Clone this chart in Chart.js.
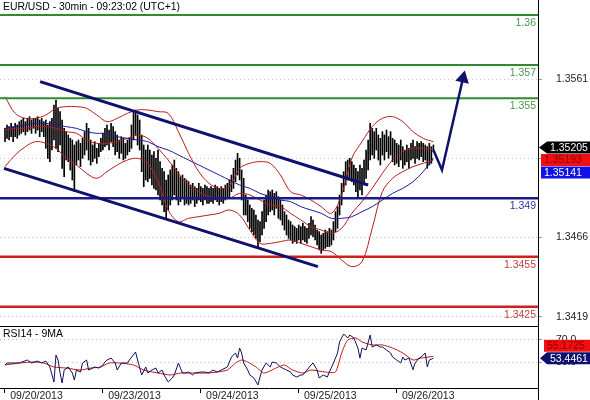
<!DOCTYPE html>
<html><head><meta charset="utf-8">
<script src="https://cdn.jsdelivr.net/npm/chart.js@4.4.0/dist/chart.umd.min.js"></script>
<style>html,body{margin:0;padding:0;background:#fff}#wrap{width:590px;height:400px;position:relative}</style>
</head><body><div id="wrap"><canvas id="c" width="590" height="400"></canvas></div>
<script>
const chartTitle = 'EUR/USD - 30min - 09:23:02 (UTC+1)';
const rsiTitle = 'RSI14 - 9MA';
const dateLabels = ['09/20/2013','09/23/2013','09/24/2013','09/25/2013','09/26/2013'];
const dateTickBars = [0,48,96,144,192];

const highs = [
1.3532,1.3534,1.3533,1.3535,1.3533,1.3535,1.3534,1.3536,1.3537,1.3538,
1.3536,1.3538,1.3539,1.3537,1.3538,1.3538,1.3539,1.3537,1.3538,1.3536,
1.3537,1.3534,1.3536,1.3538,1.3546,1.3549,1.3544,1.3542,1.3537,1.3532,
1.3530,1.3528,1.3526,1.3525,1.3522,1.3524,1.3525,1.3523,1.3526,1.3530,
1.3535,1.3532,1.3525,1.3522,1.3524,1.3520,1.3523,1.3526,1.3529,1.3532,
1.3534,1.3531,1.3535,1.3533,1.3530,1.3528,1.3525,1.3527,1.3526,1.3523,
1.3525,1.3526,1.3534,1.3542,1.3543,1.3540,1.3537,1.3528,1.3522,1.3519,
1.3522,1.3519,1.3516,1.3518,1.3514,1.3519,1.3512,1.3508,1.3506,1.3501,
1.3504,1.3507,1.3510,1.3513,1.3508,1.3506,1.3503,1.3504,1.3502,1.3501,
1.3500,1.3498,1.3499,1.3497,1.3496,1.3499,1.3497,1.3496,1.3498,1.3497,
1.3496,1.3497,1.3496,1.3498,1.3497,1.3496,1.3497,1.3496,1.3498,1.3499,
1.3501,1.3504,1.3508,1.3513,1.3517,1.3514,1.3507,1.3502,1.3492,1.3489,
1.3486,1.3484,1.3483,1.3480,1.3477,1.3476,1.3482,1.3489,1.3492,1.3495,
1.3494,1.3495,1.3493,1.3494,1.3491,1.3489,1.3486,1.3482,1.3480,1.3477,
1.3476,1.3474,1.3473,1.3472,1.3474,1.3473,1.3475,1.3473,1.3472,1.3475,
1.3479,1.3477,1.3474,1.3471,1.3470,1.3468,1.3469,1.3471,1.3470,1.3472,
1.3471,1.3476,1.3482,1.3485,1.3492,1.3499,1.3506,1.3512,1.3513,1.3514,
1.3512,1.3510,1.3508,1.3506,1.3510,1.3508,1.3513,1.3519,1.3525,1.3535,
1.3532,1.3530,1.3532,1.3528,1.3526,1.3530,1.3528,1.3531,1.3527,1.3530,
1.3526,1.3525,1.3523,1.3522,1.3525,1.3521,1.3519,1.3522,1.3520,1.3523,
1.3525,1.3521,1.3524,1.3523,1.3524,1.3523,1.3522,1.3521,1.3523,1.3521,1.3522];
const lows = [
1.3524,1.3526,1.3525,1.3527,1.3524,1.3527,1.3526,1.3528,1.3529,1.3530,
1.3528,1.3530,1.3531,1.3529,1.3532,1.3529,1.3531,1.3527,1.3530,1.3527,
1.3520,1.3514,1.3512,1.3519,1.3525,1.3520,1.3518,1.3522,1.3508,1.3503,
1.3513,1.3512,1.3507,1.3501,1.3494,1.3510,1.3513,1.3509,1.3514,1.3516,
1.3519,1.3513,1.3510,1.3512,1.3514,1.3511,1.3515,1.3518,1.3519,1.3521,
1.3522,1.3519,1.3524,1.3521,1.3516,1.3518,1.3514,1.3517,1.3513,1.3514,
1.3516,1.3518,1.3520,1.3525,1.3528,1.3522,1.3519,1.3506,1.3497,1.3501,
1.3500,1.3502,1.3498,1.3496,1.3495,1.3492,1.3489,1.3486,1.3482,1.3478,
1.3483,1.3486,1.3489,1.3492,1.3489,1.3486,1.3488,1.3490,1.3486,1.3487,
1.3486,1.3487,1.3489,1.3485,1.3487,1.3489,1.3488,1.3486,1.3489,1.3487,
1.3487,1.3488,1.3487,1.3489,1.3488,1.3486,1.3488,1.3487,1.3489,1.3490,
1.3491,1.3494,1.3496,1.3500,1.3504,1.3501,1.3489,1.3480,1.3480,1.3476,
1.3472,1.3470,1.3468,1.3466,1.3460,1.3464,1.3468,1.3472,1.3476,1.3480,
1.3482,1.3483,1.3480,1.3484,1.3478,1.3477,1.3474,1.3471,1.3468,1.3466,
1.3465,1.3463,1.3464,1.3463,1.3465,1.3463,1.3465,1.3464,1.3463,1.3466,
1.3468,1.3467,1.3465,1.3462,1.3459,1.3457,1.3459,1.3460,1.3461,1.3461,
1.3462,1.3465,1.3470,1.3472,1.3480,1.3486,1.3494,1.3498,1.3501,1.3502,
1.3500,1.3498,1.3494,1.3491,1.3495,1.3492,1.3498,1.3502,1.3507,1.3513,
1.3516,1.3514,1.3519,1.3513,1.3510,1.3516,1.3513,1.3518,1.3514,1.3516,
1.3512,1.3510,1.3511,1.3509,1.3513,1.3508,1.3510,1.3512,1.3508,1.3513,
1.3514,1.3511,1.3514,1.3513,1.3515,1.3512,1.3513,1.3508,1.3510,1.3511,1.3518];
const lastClose = 1.35205;

// indicators sampled every 5 bars
const indicatorStep = 5;
const bbUpper = [1.3551,1.3541,1.3538,1.3538,1.3540,1.3544,1.3545,1.3545,1.3544,1.3540,
1.3536,1.3538,1.3541,1.3543,1.3543,1.3542,1.3541,1.3530,1.3517,1.3506,
1.3499,1.3496,1.3497,1.3508,1.3511,1.3512,1.3511,1.3504,1.3494,1.3492,
1.3489,1.3485,1.3481,1.3492,1.3514,1.3524,1.3533,1.3538,1.3539,1.3536,
1.3530,1.3526,1.3524];
const bbMiddle = [1.3531,1.3532,1.3532,1.3533,1.3533,1.3532,1.3530,1.3529,1.3525,1.3523,
1.3523,1.3524,1.3526,1.3528,1.3526,1.3520,1.3513,1.3505,1.3498,1.3494,
1.3491,1.3490,1.3490,1.3493,1.3492,1.3489,1.3486,1.3485,1.3481,1.3477,
1.3473,1.3471,1.3469,1.3472,1.3481,1.3488,1.3496,1.3505,1.3513,1.3518,
1.3520,1.3520,1.35193];
const bbLower = [1.3509,1.3516,1.3521,1.3524,1.3523,1.3520,1.3514,1.3510,1.3505,1.3502,
1.3506,1.3510,1.3513,1.3514,1.3511,1.3500,1.3483,1.3476,1.3478,1.3479,
1.3480,1.3481,1.3483,1.3480,1.3471,1.3463,1.3463,1.3464,1.3465,1.3463,
1.3461,1.3459,1.3458,1.3453,1.3449,1.3452,1.3472,1.3494,1.3502,1.3506,
1.3509,1.3511,1.3513];
const maNavy = [1.3532,1.3533,1.3534,1.3535,1.3535,1.3534,1.3533,1.3532,1.3530,1.3529,
1.3529,1.3527,1.3526,1.3525,1.3524,1.3521,1.3519,1.3516,1.3513,1.3510,
1.3507,1.3504,1.3501,1.3498,1.3496,1.3493,1.3491,1.3489,1.3488,1.3485,
1.3483,1.3481,1.3478,1.3478,1.3479,1.3482,1.3485,1.3489,1.3493,1.3496,
1.3500,1.3506,1.35141];

const levels = [1.36, 1.357, 1.355, 1.349, 1.3455, 1.3425];
const levelLabels = ['1.36','1.357','1.355','1.349','1.3455','1.3425'];
const levelLineColors = ['#2e8b2e','#2e8b2e','#2e8b2e','#1a1a8a','#cc2020','#cc2020'];
const levelTextColors = ['#4a9a4a','#4a9a4a','#4a9a4a','#3030a0','#c04040','#c04040'];

const channelUpper = [[17.2, 1.3560], [178, 1.3498]];
const channelLower = [[-0.5, 1.3508], [153.4, 1.3449]];
const forecastPath = [[210, 1.3519], [214.2, 1.3507], [224.5, 1.3562]];

const priceTicks = [1.3419, 1.34665, 1.3514, 1.35615];
const priceTickLabels = ['1.3419', '1.3466', '', '1.3561'];

const rsiIdx = [0,1,4,7,11,13,16,18,20,22,24,25,26,27,28,29,31,33,34,35,37,38,40,41,43,44,46,48,49,50,
52,54,55,57,60,61,64,65,67,69,70,72,74,75,77,78,80,82,83,85,87,88,90,92,93,96,98,100,102,104,
106,109,111,113,114,115,116,117,119,120,122,124,125,126,128,130,131,133,135,136,138,140,141,143,145,146,148,150,151,153,
154,156,158,159,161,163,164,166,168,169,171,173,174,175,177,179,180,182,184,185,187,189,190,192,194,195,196,198,200,201,
203,204,206,207,208,210];
const rsiVal = [47.3,49.1,49.1,49.1,51.8,49.1,50.9,49.1,50.9,45.5,31.8,56.4,51.8,40.0,30.9,42.7,45.5,40.0,33.6,42.7,
40.9,49.1,51.8,42.7,44.5,45.5,44.5,47.3,50.0,51.8,
53.6,49.1,42.7,49.1,49.1,51.8,59.1,51.8,38.2,45.5,40.0,42.7,44.5,40.0,42.7,38.2,31.8,35.5,38.2,49.1,
40.0,40.0,40.9,38.2,40.0,40.9,40.9,40.0,42.7,40.9,
42.7,45.5,54.5,58.2,53.6,62.7,58.2,49.1,42.7,38.2,35.5,29.1,36.4,42.7,49.1,45.5,50.0,49.1,45.5,44.5,
42.7,40.9,38.2,36.4,38.2,38.2,42.7,47.3,49.1,42.7,
35.5,38.2,36.4,40.9,49.1,58.2,68.2,75.5,71.8,74.5,71.8,62.7,53.6,62.7,60.9,74.5,63.6,65.5,63.6,63.6,
60.9,58.2,54.5,51.8,49.1,54.5,51.8,53.6,43.0,49.1,
53.6,54.5,58.2,45.5,51.8,53.4461];
const rsiMaIdx = [0,7,14,19,24,30,37,42,47,51,56,63,68,75,81,86,92,99,104,109,113,116,119,123,127,134,137,141,146,150,157,162,165,168,172,175,180,185,190,195,200,204,210];
const rsiMaVal = [47.3,49.1,50.0,49.1,45.5,44.5,42.7,44.5,45.5,49.1,49.1,47.3,42.7,40.0,38.2,40.0,40.0,40.0,40.9,42.7,
49.1,51.8,50.0,45.5,40.0,45.5,47.3,42.7,40.0,42.7,40.9,40.9,58.2,70.0,71.8,68.2,65.5,65.5,62.7,58.2,51.8,53.6,55.1725];
const rsiTicks = [50, 70];
const rsiTickLabels = ['50.0', '70.0'];

const FONT = '"Liberation Sans", Arial, sans-serif';
Chart.defaults.font.family = FONT;

const sampled = (arr) => arr.map((v, k) => ({x: k * indicatorStep, y: v}));
const pairs = (arr) => arr.map(p => ({x: p[0], y: p[1]}));
const NAVY = '#10106e';

const datasets = [];
datasets.push({type:'line', data: pairs(forecastPath), borderColor: NAVY, borderWidth: 2.5,
  pointStyle:'triangle', pointRadius:[0,0,8], pointRotation:13, pointBackgroundColor:NAVY, pointBorderWidth:0,
  yAxisID:'yPrice', order:0, tension:0});
datasets.push({type:'line', data: pairs(channelUpper), borderColor: NAVY, borderWidth: 3, pointRadius:0, yAxisID:'yPrice', order:1});
datasets.push({type:'line', data: pairs(channelLower), borderColor: NAVY, borderWidth: 3, pointRadius:0, yAxisID:'yPrice', order:1});
levels.forEach((L, i) => {
  datasets.push({type:'line', data:[{x:-10, y:L},{x:300, y:L}], borderColor: levelLineColors[i],
    borderWidth: i < 3 ? 2 : 2.5, pointRadius:0, yAxisID:'yPrice', order:2});
});
datasets.push({type:'line', data: sampled(maNavy), borderColor:'#1c1ca0', borderWidth:1, pointRadius:0, tension:0.35, yAxisID:'yPrice', order:3});
[bbUpper, bbMiddle, bbLower].forEach(arr => {
  datasets.push({type:'line', data: sampled(arr), borderColor:'#b81c1c', borderWidth:1, pointRadius:0, tension:0.35, yAxisID:'yPrice', order:4});
});
datasets.push({type:'bar', data: highs.map((h, i) => ({x:i, y:[lows[i], h]})), backgroundColor:'#000',
  barThickness:1, grouped:false, yAxisID:'yPrice', order:5});
datasets.push({type:'line', data: rsiMaIdx.map((x, k) => ({x, y: rsiMaVal[k]})), borderColor:'#c01818', borderWidth:1, pointRadius:0, tension:0.2, yAxisID:'yRsi', order:1});
datasets.push({type:'line', data: rsiIdx.map((x, k) => ({x, y: rsiVal[k]})), borderColor:'#10105e', borderWidth:1, pointRadius:0, tension:0, yAxisID:'yRsi', order:0});

function drawBox(ctx, left, right, yc, h, fill, textColor, text, arrowTip) {
  ctx.fillStyle = fill;
  ctx.beginPath();
  if (arrowTip !== null) {
    ctx.moveTo(arrowTip, yc);
    ctx.lineTo(left, yc - h / 2);
  } else {
    ctx.moveTo(left, yc - h / 2);
  }
  ctx.lineTo(right, yc - h / 2);
  ctx.lineTo(right, yc + h / 2);
  ctx.lineTo(left, yc + h / 2);
  ctx.closePath();
  ctx.fill();
  ctx.fillStyle = textColor;
  ctx.font = '10.5px ' + FONT;
  ctx.textAlign = 'left';
  ctx.textBaseline = 'middle';
  ctx.fillText(text, left + 3, yc + 0.5);
}

const overlay = {
  id: 'overlay',
  afterDraw(chart) {
    const {ctx, chartArea: a, scales} = chart;
    const y = scales.yPrice, r = scales.yRsi;
    ctx.save();
    ctx.strokeStyle = '#000';
    ctx.lineWidth = 1;
    ctx.beginPath();
    ctx.moveTo(0, Math.round(y.bottom) + 0.5);
    ctx.lineTo(a.right, Math.round(y.bottom) + 0.5);
    ctx.stroke();
    ctx.beginPath();
    ctx.moveTo(Math.round(a.right) + 0.5, 0);
    ctx.lineTo(Math.round(a.right) + 0.5, chart.height);
    ctx.stroke();

    ctx.font = '10.4px ' + FONT;
    ctx.fillStyle = '#000';
    ctx.textAlign = 'left';
    ctx.textBaseline = 'middle';
    ctx.fillText(chartTitle, 3, 7);
    ctx.font = '10.5px ' + FONT;
    ctx.fillText(rsiTitle, 3, r.top + 8);

    ctx.font = '10.5px ' + FONT;
    ctx.textAlign = 'right';
    levels.forEach((L, i) => {
      ctx.fillStyle = levelTextColors[i];
      ctx.fillText(levelLabels[i], a.right - 2, y.getPixelForValue(L) + 8);
    });

    const W = chart.width;
    const yc = y.getPixelForValue(lastClose);
    drawBox(ctx, a.right + 9, W, yc, 12, '#000', '#fff', lastClose.toFixed(5), a.right + 1);
    drawBox(ctx, a.right + 3, W, yc + 12.5, 12, '#f01010', '#900000', bbMiddle[bbMiddle.length - 1].toFixed(5), null);
    drawBox(ctx, a.right + 3, W, yc + 25, 12, '#1010e8', '#fff', maNavy[maNavy.length - 1].toFixed(5), null);

    const rv = rsiVal[rsiVal.length - 1];
    const rc = r.getPixelForValue(rv);
    drawBox(ctx, a.right + 6, W, rc - 12.5, 12, '#f01010', '#900000', rsiMaVal[rsiMaVal.length - 1].toFixed(4), null);
    drawBox(ctx, a.right + 9, W, rc, 12, '#10106e', '#fff', rv.toFixed(4), a.right + 2);
    ctx.restore();
  }
};

const noPad = s => { s.paddingTop = 0; s.paddingBottom = 0; s.paddingLeft = 0; s.paddingRight = 0; };

new Chart(document.getElementById('c'), {
  type: 'bar',
  data: { datasets },
  plugins: [overlay],
  options: {
    responsive: false, animation: false, events: [],
    layout: { padding: 0, autoPadding: false },
    plugins: { legend: {display:false}, tooltip: {enabled:false}, title: {display:false} },
    scales: {
      x: {
        type: 'linear', axis: 'x', position: 'bottom', min: -2.45, max: 261.27, offset: false,
        afterBuildTicks: s => { s.ticks = dateTickBars.map(v => ({value: v})); },
        afterFit: s => { s.height = 12; noPad(s); },
        ticks: { autoSkip:false, maxRotation:0, align:'start', padding:-3, color:'#222',
                 font:{size:10.5}, callback: (v, i) => '\u2002' + dateLabels[i] },
        grid: { drawOnChartArea:false, drawTicks:true, tickLength:5, color:'#000', offset:false },
        border: { display:true, color:'#000' }
      },
      yPrice: {
        type: 'linear', axis: 'y', position: 'right', stack: 'panels', stackWeight: 326,
        min: 1.34134, max: 1.3609,
        afterBuildTicks: s => { s.ticks = priceTicks.map(v => ({value: v})); },
        afterFit: s => { s.width = 52; noPad(s); },
        ticks: { callback: (v, i) => priceTickLabels[i], padding: 14, color:'#222', font:{size:10.5} },
        grid: { color:'#c4c4c4', tickColor:'#999', tickLength:4 },
        border: { color:'#000', dash:[1,3] }
      },
      yRsi: {
        type: 'linear', axis: 'y', position: 'right', stack: 'panels', stackWeight: 62,
        min: 26.4, max: 82.7,
        afterBuildTicks: s => { s.ticks = rsiTicks.map(v => ({value: v})); },
        afterFit: s => { s.width = 52; noPad(s); },
        ticks: { callback: (v, i) => rsiTickLabels[i], padding: 14, color:'#222', font:{size:10.5} },
        grid: { color:'#c4c4c4', tickColor:'#999', tickLength:4 },
        border: { color:'#000', dash:[1,3] }
      }
    }
  }
});
</script>
</body></html>
